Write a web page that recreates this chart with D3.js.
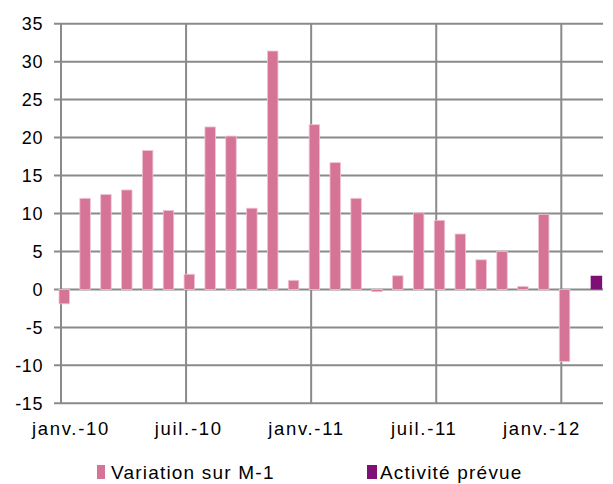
<!DOCTYPE html>
<html>
<head>
<meta charset="utf-8">
<script src="https://cdn.jsdelivr.net/npm/d3@7"></script>
<style>
body { margin: 0; background: #fff; }
text { font-family: "Liberation Sans", Arial, sans-serif; fill: #000; }
</style>
</head>
<body>
<div id="chart"></div>
<script>
var width = 613,
    height = 484;

// months from janv. 2010 to févr. 2012
var months = ["2010-01","2010-02","2010-03","2010-04","2010-05","2010-06","2010-07","2010-08","2010-09","2010-10","2010-11","2010-12",
              "2011-01","2011-02","2011-03","2011-04","2011-05","2011-06","2011-07","2011-08","2011-09","2011-10","2011-11","2011-12",
              "2012-01","2012-02"];

// Variation sur M-1 (janv.-10 .. janv.-12)
var variation = [-1.9, 12.0, 12.5, 13.1, 18.3, 10.4, 2.0, 21.4, 20.2, 10.7, 31.4, 1.2,
                 21.7, 16.7, 12.0, -0.3, 1.8, 10.1, 9.1, 7.3, 3.9, 5.0, 0.4, 9.9,
                 -9.5];

// Activité prévue (févr.-12)
var prevue = [{ month: "2012-02", value: 1.8 }];

var tickLabels = ["janv.-10", "juil.-10", "janv.-11", "juil.-11", "janv.-12"];
var tickMonths = ["2010-01", "2010-07", "2011-01", "2011-07", "2012-01"];
var yTicks = [-15, -10, -5, 0, 5, 10, 15, 20, 25, 30, 35];

var seriesNames = ["Variation sur M-1", "Activité prévue"];
var pink = "#d57497", purple = "#7e0f75", grid = "#8a8a8a";

var plot = { left: 61, right: 603, top: 23.7, bottom: 403.3 };

var svg = d3.select("#chart").append("svg")
    .attr("width", width)
    .attr("height", height);

var xScale = d3.scaleBand()
    .domain(months)
    .range([plot.left, plot.right])
    .padding(0);

var subScale = d3.scaleBand()
    .domain(["variation", "prevue"])
    .range([-2, 19]);

var yScale = d3.scaleLinear()
    .domain([-15, 35])
    .range([plot.bottom, plot.top]);

var labelScale = d3.scalePoint()
    .domain(tickLabels)
    .range([71, 542]);

// horizontal grid lines
svg.append("g").selectAll("line")
    .data(yTicks)
    .enter().append("line")
    .attr("x1", plot.left - 7)
    .attr("x2", plot.right)
    .attr("y1", function(d) { return yScale(d); })
    .attr("y2", function(d) { return yScale(d); })
    .attr("stroke", grid)
    .attr("stroke-width", 2);

// vertical grid lines
svg.append("g").selectAll("line")
    .data(tickMonths)
    .enter().append("line")
    .attr("x1", function(d) { return xScale(d); })
    .attr("x2", function(d) { return xScale(d); })
    .attr("y1", plot.top)
    .attr("y2", plot.bottom)
    .attr("stroke", grid)
    .attr("stroke-width", 2);

// bars
svg.append("g").selectAll("rect")
    .data(variation)
    .enter().append("rect")
    .attr("x", function(d, i) { return xScale(months[i]) + subScale("variation"); })
    .attr("y", function(d) { return yScale(Math.max(0, d)); })
    .attr("width", subScale.bandwidth())
    .attr("height", function(d) { return Math.abs(yScale(d) - yScale(0)); })
    .attr("fill", pink)
    .attr("stroke", "#f1c4d4")
    .attr("stroke-width", 0.8);

svg.append("g").selectAll("rect")
    .data(prevue)
    .enter().append("rect")
    .attr("x", function(d) { return xScale(d.month) + subScale("prevue"); })
    .attr("y", function(d) { return yScale(Math.max(0, d.value)); })
    .attr("width", subScale.bandwidth() + 1)
    .attr("height", function(d) { return Math.abs(yScale(d.value) - yScale(0)); })
    .attr("fill", purple);

// y labels
svg.append("g").selectAll("text")
    .data(yTicks)
    .enter().append("text")
    .attr("x", 43)
    .attr("y", function(d) { return yScale(d); })
    .attr("dy", "0.36em")
    .attr("text-anchor", "end")
    .style("font-size", "18px")
    .style("letter-spacing", "0.6px")
    .text(function(d) { return d; });

// x labels
svg.append("g").selectAll("text")
    .data(tickLabels)
    .enter().append("text")
    .attr("x", function(d) { return labelScale(d); })
    .attr("y", 435)
    .attr("text-anchor", "middle")
    .style("font-size", "18.5px")
    .style("letter-spacing", "1.7px")
    .text(function(d) { return d; });

// legend
var legendX = [97, 367];
var legend = svg.append("g").selectAll("g")
    .data(seriesNames)
    .enter().append("g")
    .attr("transform", function(d, i) { return "translate(" + legendX[i] + ",465)"; });

legend.append("rect")
    .attr("width", function(d, i) { return i === 0 ? 8 : 10; })
    .attr("height", 14)
    .attr("fill", function(d, i) { return i === 0 ? pink : purple; });

legend.append("text")
    .attr("x", function(d, i) { return i === 0 ? 14 : 13; })
    .attr("y", 14)
    .style("font-size", "19px")
    .style("letter-spacing", "1.2px")
    .text(function(d) { return d; });
</script>
</body>
</html>
